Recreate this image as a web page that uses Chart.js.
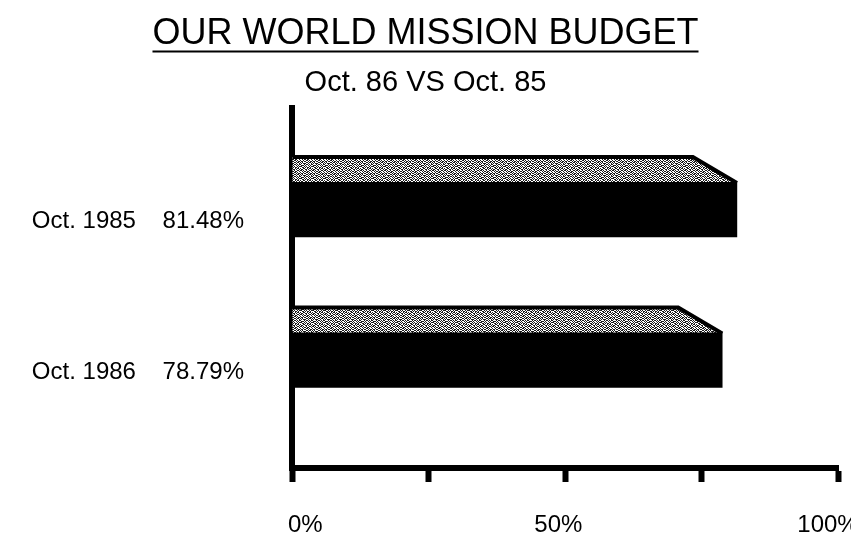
<!DOCTYPE html>
<html>
<head>
<meta charset="utf-8">
<script src="https://cdn.jsdelivr.net/npm/chart.js@4/dist/chart.umd.min.js"></script>
<style>
  html, body { margin: 0; padding: 0; background: #fff; }
  #chart { display: block; }
</style>
</head>
<body>
<canvas id="chart" width="851" height="539"></canvas>
<script>
// data
const titleText = "OUR WORLD MISSION BUDGET";
const subtitleText = "Oct. 86 VS Oct. 85";
const categories = ["Oct. 1985", "Oct. 1986"];
const percents = [81.48, 78.79];
const xTicks = [0, 25, 50, 75, 100];
const xTickLabels = { 0: "0%", 50: "50%", 100: "100%" };

const FONT = "'Liberation Sans', Arial, Helvetica, sans-serif";

// the scan puts the x labels a bit off their ticks; nudge them with spaces
function nudge(v, s) {
    if (v === 0) return "    " + s;
    if (v === 50) return s + "  ";
    if (v === 100) return s + "   ";
    return s;
}

// speckled texture for the top face of the bars
function makeStipple() {
    const rows = [
        "100110010110",
        "011001101001",
        "110100100110",
        "001011011001",
        "100100110100",
        "011011001011",
        "101000110110",
        "010111001001",
        "100010110101",
        "011101001010",
        "110010100101",
        "001101011010"
    ];
    const c = document.createElement("canvas");
    c.width = 12; c.height = 12;
    const g = c.getContext("2d");
    g.fillStyle = "#ffffff";
    g.fillRect(0, 0, 12, 12);
    g.fillStyle = "#1a1a1a";
    rows.forEach((r, y) => {
        for (let x = 0; x < 12; x++) if (r[x] === "1") g.fillRect(x, y, 1, 1);
    });
    return c;
}

// draws the slanted lid on each bar and the title underline
const lidPlugin = {
    id: "lid",
    afterDatasetsDraw(chart) {
        const ctx = chart.ctx;
        const pattern = ctx.createPattern(makeStipple(), "repeat");
        chart.getDatasetMeta(0).data.forEach(bar => {
            const top = bar.y - bar.height / 2;
            const depth = 25;
            const inset = 44;
            ctx.save();
            ctx.beginPath();
            ctx.moveTo(bar.base, top - depth);
            ctx.lineTo(bar.x - inset, top - depth);
            ctx.lineTo(bar.x, top);
            ctx.lineTo(bar.base, top);
            ctx.closePath();
            ctx.fillStyle = pattern;
            ctx.fill();
            ctx.strokeStyle = "#000";
            ctx.lineWidth = 4;
            ctx.beginPath();
            ctx.moveTo(bar.base, top - depth);
            ctx.lineTo(bar.x - inset, top - depth);
            ctx.lineTo(bar.x, top + 1);
            ctx.stroke();
            ctx.restore();
        });
    },
    afterDraw(chart) {
        const t = chart.titleBlock;
        if (!t) return;
        const ctx = chart.ctx;
        ctx.save();
        ctx.font = "36px " + FONT;
        const w = ctx.measureText(titleText).width;
        const cx = (t.left + t.right) / 2;
        const y = t.top + 12 + 21.6 + 18;
        ctx.strokeStyle = "#000";
        ctx.lineWidth = 2;
        ctx.beginPath();
        ctx.moveTo(cx - w / 2, y);
        ctx.lineTo(cx + w / 2, y);
        ctx.stroke();
        ctx.restore();
    }
};

const ctx = document.getElementById("chart").getContext("2d");
const chart = new Chart(ctx, {
    type: "bar",
    data: {
        datasets: [{
            data: percents.map((v, i) => ({ x: v, y: i + 1 })),
            backgroundColor: "#000",
            borderWidth: 0,
            barThickness: 55
        }]
    },
    options: {
        responsive: false,
        animation: false,
        indexAxis: "y",
        layout: { padding: 0 },
        plugins: {
            legend: { display: false },
            tooltip: { enabled: false },
            title: {
                display: true,
                text: titleText,
                color: "#000",
                font: { family: FONT, size: 36, weight: "normal" },
                padding: { top: 12, bottom: 6 }
            },
            subtitle: {
                display: true,
                text: subtitleText,
                color: "#000",
                font: { family: FONT, size: 29, weight: "normal" },
                padding: { top: 4, bottom: 8 }
            }
        },
        scales: {
            y: {
                type: "linear",
                reverse: true,
                offset: false,
                min: 0.326,
                max: 2.718,
                afterBuildTicks: scale => {
                    scale.ticks = categories.map((c, i) => ({ value: i + 1 }));
                },
                afterFit: scale => { scale.width = 292; },
                grid: { display: false, drawTicks: false },
                border: { display: true, color: "#000", width: 6 },
                ticks: {
                    color: "#000",
                    padding: 48,
                    labelOffset: 12,
                    font: { family: FONT, size: 24 },
                    callback: v => {
                        const i = Math.round(v) - 1;
                        return categories[i] + "    " + percents[i].toFixed(2) + "%";
                    }
                }
            },
            x: {
                type: "linear",
                min: 0,
                max: 100,
                afterBuildTicks: scale => {
                    scale.ticks = xTicks.map(v => ({ value: v }));
                },
                afterFit: scale => {
                    scale.height = 71;
                    scale.paddingLeft = 0;
                    scale.paddingRight = 13;
                },
                grid: {
                    drawOnChartArea: false,
                    drawTicks: true,
                    tickLength: 14,
                    tickWidth: 6,
                    tickColor: "#000"
                },
                border: { display: true, color: "#000", width: 6 },
                ticks: {
                    color: "#000",
                    padding: 29,
                    maxRotation: 0,
                    autoSkip: false,
                    font: { family: FONT, size: 24 },
                    callback: v => xTickLabels[v] ? nudge(v, xTickLabels[v]) : ""
                }
            }
        }
    },
    plugins: [lidPlugin]
});
</script>
</body>
</html>
